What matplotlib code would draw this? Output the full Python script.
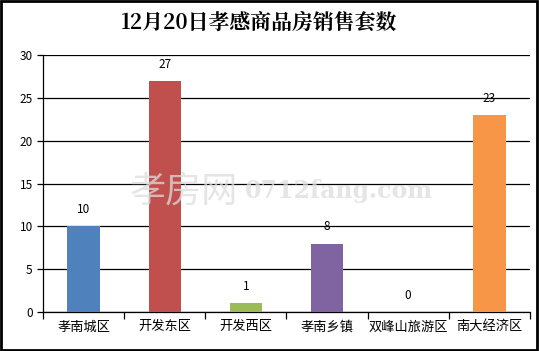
import matplotlib.pyplot as plt
from matplotlib.patches import Rectangle
import numpy as np

plt.rcParams['font.family'] = ['Noto Sans CJK SC', 'DejaVu Sans']

districts = ['孝南城区', '开发东区', '开发西区', '孝南乡镇', '双峰山旅游区', '南大经济区']
counts = [10, 27, 1, 8, 0, 23]
colors = ['#4F81BD', '#C0504D', '#9BBB59', '#8064A2', '#4BACC6', '#F79646']

fig = plt.figure(figsize=(5.39, 3.51), dpi=100)
ax = fig.add_axes([0.080, 0.111, 0.903, 0.732])

x = np.arange(len(districts))
bars = ax.bar(x, counts, width=0.4, color=colors, zorder=3)
for xi, v in zip(x, counts):
    ax.text(xi, v + 1.2, str(v), ha='center', va='bottom', fontsize=8.5, zorder=4)

ax.set_xlim(-0.5, len(districts) - 0.5)
ax.set_ylim(0, 30)
ax.set_yticks(range(0, 31, 5))
ax.yaxis.grid(True, color='black', linewidth=0.9, zorder=0)
ax.set_axisbelow(True)

ax.set_xticks(x)
ax.set_xticklabels(districts, fontsize=9.5)
ax.tick_params(axis='x', length=0, pad=6)
ax.set_xticks(np.arange(-0.5, len(districts)), minor=True)
ax.tick_params(axis='x', which='minor', length=5, direction='out', width=0.9)
ax.tick_params(axis='y', labelsize=8.5, length=4, width=0.9)

for s in ['top', 'right']:
    ax.spines[s].set_visible(False)
ax.spines['left'].set_linewidth(0.9)
ax.spines['bottom'].set_linewidth(0.9)

fig.text(0.48, 0.935, '12月20日孝感商品房销售套数', ha='center', va='center',
         fontsize=15, fontweight='bold', family=['Noto Serif CJK SC', 'Noto Sans CJK SC'])

# watermark
fig.text(0.24, 0.455, '孝房网', ha='left', va='center', fontsize=26,
         color='#dddddd', alpha=0.75, zorder=5)
fig.text(0.455, 0.455, '0712fang.com', ha='left', va='center', fontsize=17,
         color='#dddddd', alpha=0.75, family=['DejaVu Serif'], fontweight='bold', zorder=5)

fig.patches.append(Rectangle((0.002, 0.003), 0.995, 0.994, transform=fig.transFigure,
                             fill=False, edgecolor='black', linewidth=2))

fig.savefig('out.png', dpi=100)
